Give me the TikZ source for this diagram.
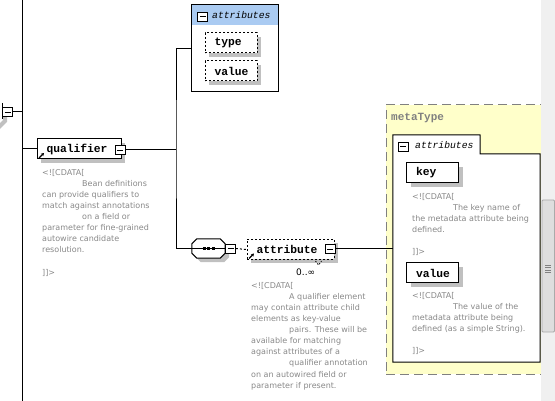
\documentclass[tikz,border=0pt]{standalone}
\usepackage{fontspec}
\setmainfont{DejaVu Sans}
\newfontfamily\labfont{Liberation Mono}
\newfontfamily\docfont{DejaVu Sans}
\usetikzlibrary{shadows,arrows.meta}
\definecolor{shadowgray}{RGB}{192,192,192}
\definecolor{docgray}{RGB}{136,136,136}
\definecolor{hdrblue}{RGB}{170,203,242}
\definecolor{metayellow}{RGB}{255,255,202}
\definecolor{metagray}{RGB}{128,128,128}
\definecolor{sbback}{RGB}{240,240,240}
\definecolor{sbthumb}{RGB}{222,222,222}
\definecolor{sbborder}{RGB}{170,170,170}
\begin{document}
\begin{tikzpicture}[x=1pt,y=-1pt,
  conn/.style={line width=1pt},
  elshadow/.style={drop shadow={shadow xshift=4pt,shadow yshift=-4pt,fill=shadowgray,opacity=1}},
  elem/.style={draw, fill=white, line width=1pt, minimum height=20pt, inner ysep=0pt, inner xsep=9.5pt,
    align=left, font=\labfont\bfseries\fontsize{11.3}{12}\selectfont, elshadow},
  optelem/.style={elem, dash pattern=on 2pt off 2pt},
  minusbox/.style={draw, fill=white, minimum width=10pt, minimum height=9pt, inner sep=0pt, line width=0.8pt,
    path picture={\draw[line width=0.8pt] ([xshift=2pt]path picture bounding box.west) -- ([xshift=-2pt]path picture bounding box.east);}},
  attrtitle/.style={font=\labfont\itshape\fontsize{9.7}{10}\selectfont, anchor=west, inner sep=0pt},
  doc/.style={font=\docfont\fontsize{8}{11.1}\selectfont, text=docgray, align=left, inner sep=0pt, anchor=north west},
  refarrow/.style={-{Stealth[length=3pt,width=3.5pt]}, line width=1.2pt}
]
\useasboundingbox (0,0) rectangle (555,401);

% main vertical line
\coordinate (vtop) at (22,0);
\coordinate (vbot) at (22,401);
\draw[conn] (vtop) -- (vbot);

% partial parent on the left
\draw[shadowgray, line width=4pt] (5,117) -- (5,121) -- (-3,129);
\draw[conn] (2,103) -- (2,119);
\node[minusbox] (lm) at (7.5,112) {};
\draw[conn] (lm.east) -- (lm.east -| vtop);

% qualifier
\node[elem, text width=65pt] (q) at (79,149) {qualifier};
\node[minusbox] (qm) at (120,150) {};
\draw[refarrow] ([xshift=2.5pt,yshift=1.5pt]q.south west) -- ++(5pt,5pt);
\draw[conn] (q.west -| vtop) -- (q.west);
\coordinate (brx) at (176,150);
\draw[conn] (qm.east) -- (brx);

\node[doc] (qdoc) at (42,169) {<![CDATA[\\
\hspace*{40pt}Bean definitions\\
can provide qualifiers to\\
match against annotations\\
\hspace*{40pt}on a field or\\
parameter for fine-grained\\
autowire candidate\\
resolution.\\
\mbox{}\\
]]>};

% attributes of qualifier
\node[draw, fill=white, line width=1pt, minimum width=87pt, minimum height=87pt, inner sep=0pt,
  path picture={\fill[hdrblue] (path picture bounding box.north west) rectangle ([yshift=-20pt]path picture bounding box.north east);}]
  (attrA) at (234.5,48.5) {};
\node[minusbox] (am1) at (202.5,16.5) {};
\node[attrtitle] (attrAt) at (212,15.5) {attributes};
\node[optelem, text width=33pt] (type) at (231,43) {type};
\node[optelem, text width=33pt] (value) at (231,71) {value};

% sequence compositor (octagon)
\node[minimum width=33pt, minimum height=19pt, inner sep=0pt] (seq) at (208.5,248.5) {};
\fill[shadowgray] ([xshift=9pt,yshift=-4pt]seq.north west) -- ([xshift=-1pt,yshift=-4pt]seq.north east)
  -- ([xshift=4pt,yshift=-9pt]seq.north east) -- ([xshift=4pt,yshift=1pt]seq.south east)
  -- ([xshift=-1pt,yshift=-4pt]seq.south east) -- ([xshift=9pt,yshift=-4pt]seq.south west)
  -- ([xshift=4pt,yshift=1pt]seq.south west) -- ([xshift=4pt,yshift=-9pt]seq.north west) -- cycle;
\draw[conn, fill=white] ([xshift=5pt]seq.north west) -- ([xshift=-5pt]seq.north east)
  -- ([yshift=-5pt]seq.north east) -- ([yshift=5pt]seq.south east)
  -- ([xshift=-5pt]seq.south east) -- ([xshift=5pt]seq.south west)
  -- ([yshift=5pt]seq.south west) -- ([yshift=-5pt]seq.north west) -- cycle;
\draw[conn] (seq.west) -- (seq.east);
\foreach \dx in {-4.5,0,4.5}
  \fill ([xshift=\dx pt-1.5pt, yshift=-1.5pt]seq.center) rectangle ++(3pt,3pt);
\node[minusbox] (sm) at (230.5,248.5) {};

\draw[conn] (attrA.west) -| (brx) |- (seq.west);

% attribute element
\node[optelem, text width=68pt] (att) at (290.5,249.5) {attribute};
\node[minusbox] (atm) at (330,249) {};
\draw[refarrow] ([xshift=2.5pt,yshift=1.5pt]att.south west) -- ++(5pt,5pt);
\draw[line width=0.8pt, dash pattern=on 1.5pt off 1.5pt] ([xshift=-19pt,yshift=-1pt]att.south east) -- ++(3pt,-4pt) -- ++(3pt,4pt);
\draw[conn, dash pattern=on 2pt off 2pt] (sm.east) -- (att.west);
\node[font=\docfont\fontsize{9}{10}\selectfont, anchor=west, inner sep=0pt] (occ) at (296,272) {0..∞};

\node[doc] (adoc) at (251,282) {<![CDATA[\\
\hspace*{38pt}A qualifier element\\
may contain attribute child\\
elements as key-value\\
\hspace*{38pt}pairs. These will be\\
available for matching\\
against attributes of a\\
\hspace*{38pt}qualifier annotation\\
on an autowired field or\\
parameter if present.};

% metaType
\node[draw=metagray, fill=metayellow, dash pattern=on 9pt off 5pt, line width=1pt,
  minimum width=157pt, minimum height=269pt, inner sep=0pt] (meta) at (464.5,239.5) {};
\node[font=\labfont\bfseries\fontsize{11}{12}\selectfont, text=metagray, anchor=west, inner sep=0pt] (metaL) at (391,118) {metaType};

% inner attributes box with tab
\node[minimum width=147pt, minimum height=227pt, inner sep=0pt] (innerA) at (466.5,248.5) {};
\coordinate (tabt) at (480,135);
\coordinate (tabb) at (480,154);
\draw[fill=white, line width=1pt] (innerA.north west) -- (tabt) -- (tabb) -- (innerA.east |- tabb)
  -- (innerA.south east) -- (innerA.south west) -- cycle;
\node[minusbox] (im) at (403,146.5) {};
\node[attrtitle] (imt) at (415,145) {attributes};

\draw[conn] (atm.east) -- (atm.east -| innerA.west);

\node[elem, text width=33pt] (key) at (432.5,173) {key};
\node[doc] (kdoc) at (412,193) {<![CDATA[\\
\hspace*{41pt}The key name of\\
the metadata attribute being\\
defined.\\
\mbox{}\\
]]>};

\node[elem, text width=33pt] (valueB) at (432.5,273) {value};
\node[doc] (vdoc) at (412,292) {<![CDATA[\\
\hspace*{41pt}The value of the\\
metadata attribute being\\
defined (as a simple String).\\
\mbox{}\\
]]>};

% scrollbar
\fill[sbback] (541,0) rectangle (555,401);
\draw[sbborder, fill=sbthumb, rounded corners=1pt, line width=0.8pt] (542,200) rectangle (554.5,332);
\foreach \yy in {265,267.5,270,272.5}
  \draw[metagray, line width=0.8pt] (545,\yy) -- (551,\yy);
\end{tikzpicture}
\end{document}
